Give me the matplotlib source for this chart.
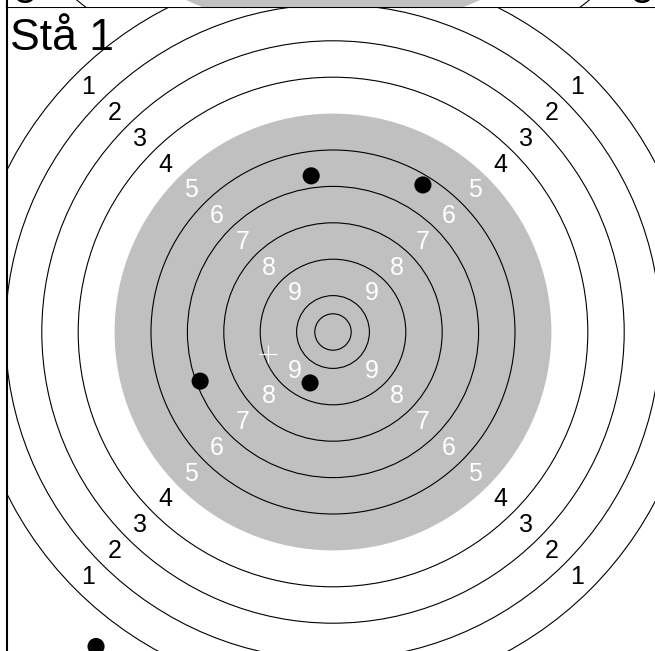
import numpy as np
import matplotlib
matplotlib.use("Agg")
import matplotlib.pyplot as plt
from matplotlib.patches import Circle

plt.rcParams['font.family'] = ['Liberation Sans', 'DejaVu Sans']

# ---- data (units: one ring width) ----
title = "Stå 1"
ring_numbers = [1, 2, 3, 4, 5, 6, 7, 8, 9]
ring_line_radii = [10, 9, 8, 7, 5, 4, 3, 2, 1, 0.5]
black_area_radius = 6
shots_x = [-0.60, 2.47, -3.65, -0.63, -6.51]
shots_y = [4.29, 4.04, -1.35, -1.40, -8.64]

W, H = 655, 651
PX = 36.4          # pixels per ring unit
CX, CY = 333, 332  # target center in pixels

fig = plt.figure(figsize=(W / 100, H / 100), dpi=100)


def draw_target(ax, scale, label_size, ylim=None):
    ax.add_patch(Circle((0, 0), black_area_radius * scale, facecolor='#c0c0c0',
                        edgecolor='none', zorder=1))
    for r in ring_line_radii:
        ax.add_patch(Circle((0, 0), r * scale, facecolor='none', edgecolor='black',
                            linewidth=0.8, zorder=2))
    half = label_size / 72 * 100 / PX * 0.45  # approx half glyph height in units
    for k in ring_numbers:
        rr = (10.5 - k) * scale
        col = 'black' if k <= 4 else 'white'
        for ang in (45, 135, 225, 315):
            a = np.deg2rad(ang)
            x, y = rr * np.cos(a), rr * np.sin(a)
            if ylim is not None and not (ylim[0] - half < y < ylim[1] + half):
                continue
            ax.text(x, y, str(k), color=col, fontsize=label_size,
                    ha='center', va='center', zorder=3, clip_on=True)


def style(ax, spines):
    ax.set_xticks([])
    ax.set_yticks([])
    for name, sp in ax.spines.items():
        sp.set_visible(name in spines)
        sp.set_linewidth(1.5)
        sp.set_color('black')


# ---- main panel ----
ax = fig.add_axes([7 / W, 0, (W - 7) / W, (H - 7) / H])
ax.set_xlim((7 - CX) / PX, (W - CX) / PX)
ax.set_ylim((CY - H) / PX, (CY - 7) / PX)
style(ax, ('left', 'top'))
draw_target(ax, 1.0, 18)
for x, y in zip(shots_x, shots_y):
    ax.add_patch(Circle((x, y), 0.235, facecolor='black', edgecolor='none', zorder=5))
ax.plot([np.mean(shots_x)], [np.mean(shots_y)], marker='+', color='white',
        markersize=13, markeredgewidth=0.8, zorder=6)

fig.text(10 / W, 1 - 50 / H, title, fontsize=32, va='baseline', ha='left')

# ---- bottom sliver of previous panel ----
ax2 = fig.add_axes([7 / W, (H - 7) / H, (W - 7) / W, 7 / H])
PREV_CY = -317
ylim2 = (-(7 - PREV_CY) / PX, -(0 - PREV_CY) / PX)
ax2.set_xlim((7 - CX) / PX, (W - CX) / PX)
ax2.set_ylim(*ylim2)
style(ax2, ('left',))
draw_target(ax2, 1.6, 28.8, ylim=ylim2)

fig.savefig("out.png", dpi=100)
